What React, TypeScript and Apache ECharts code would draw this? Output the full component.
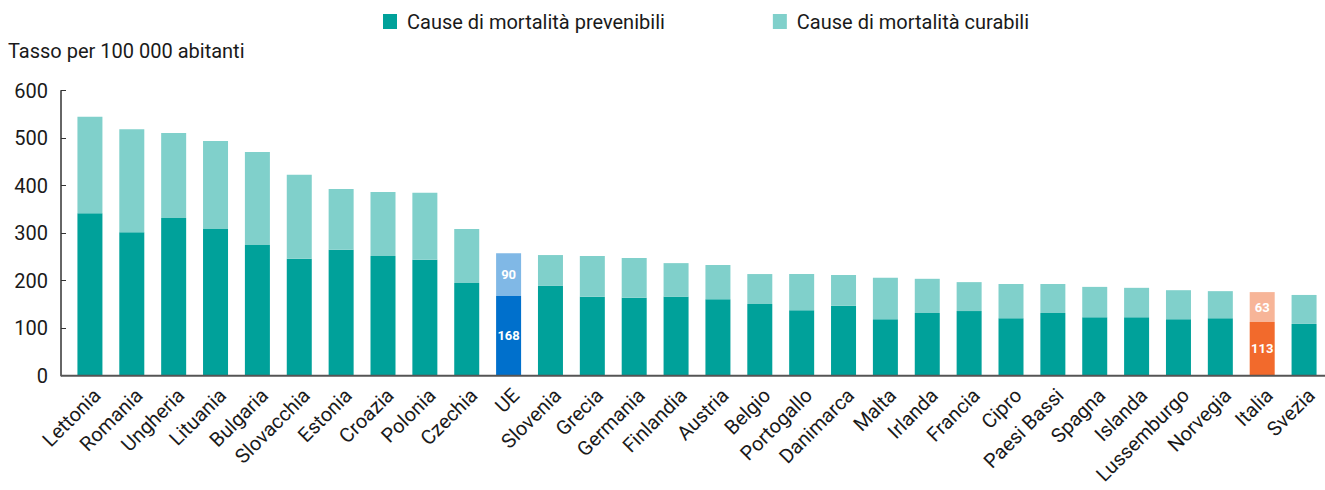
import React, { useEffect, useRef } from "react";
import * as echarts from "echarts";

const categories = [
  "Lettonia", "Romania", "Ungheria", "Lituania", "Bulgaria", "Slovacchia", "Estonia", "Croazia",
  "Polonia", "Czechia", "UE", "Slovenia", "Grecia", "Germania", "Finlandia", "Austria", "Belgio",
  "Portogallo", "Danimarca", "Malta", "Irlanda", "Francia", "Cipro", "Paesi Bassi", "Spagna",
  "Islanda", "Lussemburgo", "Norvegia", "Italia", "Svezia",
];
const prevenibili = [
  342, 302, 332, 309, 275, 246, 265, 252, 244, 195, 168, 189, 166, 164, 166, 161, 151,
  138, 147, 119, 132, 136, 121, 132, 123, 123, 119, 121, 113, 109,
];
const curabili = [
  203, 217, 179, 185, 196, 177, 128, 135, 141, 114, 90, 65, 86, 84, 71, 72, 63,
  76, 65, 87, 72, 61, 72, 61, 64, 62, 61, 57, 63, 61,
];
const yTicks = [0, 100, 200, 300, 400, 500, 600];

const TEAL = "#00A19A";
const TEAL_LIGHT = "#80D0CB";
const HIGHLIGHT: Record<string, [string, string]> = {
  UE: ["#0070CC", "#80B8E6"],
  Italia: ["#F26A2C", "#F7B598"],
};
const FONT = "Roboto";
const TXT = "#1a1a1a";

export default function App() {
  const ref = useRef<HTMLDivElement>(null);
  useEffect(() => {
    if (!ref.current) return;
    const chart = echarts.init(ref.current, undefined, { renderer: "svg" });
    const mk = (vals: number[], idx: 0 | 1) =>
      vals.map((v, i) => {
        const h = HIGHLIGHT[categories[i]];
        if (!h) return v;
        return {
          value: v,
          itemStyle: { color: h[idx] },
          label: {
            show: true,
            position: "inside",
            color: "#fff",
            fontWeight: "bold",
            fontSize: 13,
            fontFamily: FONT,
          },
        };
      });
    chart.setOption({
      animation: false,
      grid: { left: 69, right: -5, top: 90.7, height: 285 },
      legend: {
        top: 11.5,
        left: 383,
        padding: 0,
        itemWidth: 14,
        itemHeight: 15,
        itemGap: 108,
        icon: "rect",
        textStyle: { fontSize: 20, color: TXT, fontFamily: FONT, padding: [0, 0, 0, 5] },
        data: ["Cause di mortalità prevenibili", "Cause di mortalità curabili"],
      },
      graphic: [
        {
          type: "text",
          left: 8,
          top: 41,
          style: { text: "Tasso per 100 000 abitanti", fontSize: 20, fill: TXT, fontFamily: FONT },
        },
        {
          type: "line",
          shape: { x1: 61, y1: 375.7, x2: 1325, y2: 375.7 },
          style: { stroke: "#555", lineWidth: 2 },
          z: 10,
        },
      ],
      xAxis: {
        type: "category",
        data: categories,
        axisLine: { show: false },
        axisTick: { show: false },
        axisLabel: {
          rotate: 45,
          interval: 0,
          margin: 9,
          verticalAlign: "top",
          fontSize: 20,
          color: TXT,
          fontFamily: FONT,
        },
      },
      yAxis: {
        type: "value",
        min: 0,
        max: 600,
        interval: 100,
        offset: 8,
        axisLine: { show: true, lineStyle: { color: "#333", width: 1.5 } },
        axisTick: { show: true, inside: true, length: 5, lineStyle: { color: "#333" } },
        splitLine: { show: false },
        axisLabel: {
          margin: 13,
          fontSize: 20,
          color: TXT,
          fontFamily: FONT,
          formatter: (v: number) => (yTicks.includes(v) ? String(v) : ""),
        },
      },
      series: [
        {
          name: "Cause di mortalità prevenibili",
          type: "bar",
          stack: "tot",
          barWidth: 25,
          itemStyle: { color: TEAL },
          data: mk(prevenibili, 0),
        },
        {
          name: "Cause di mortalità curabili",
          type: "bar",
          stack: "tot",
          barWidth: 25,
          itemStyle: { color: TEAL_LIGHT },
          data: mk(curabili, 1),
        },
      ],
    });
    return () => chart.dispose();
  }, []);
  return (
    <div
      ref={ref}
      style={{ position: "absolute", left: 0, top: 0, width: 1325, height: 490 }}
    />
  );
}
